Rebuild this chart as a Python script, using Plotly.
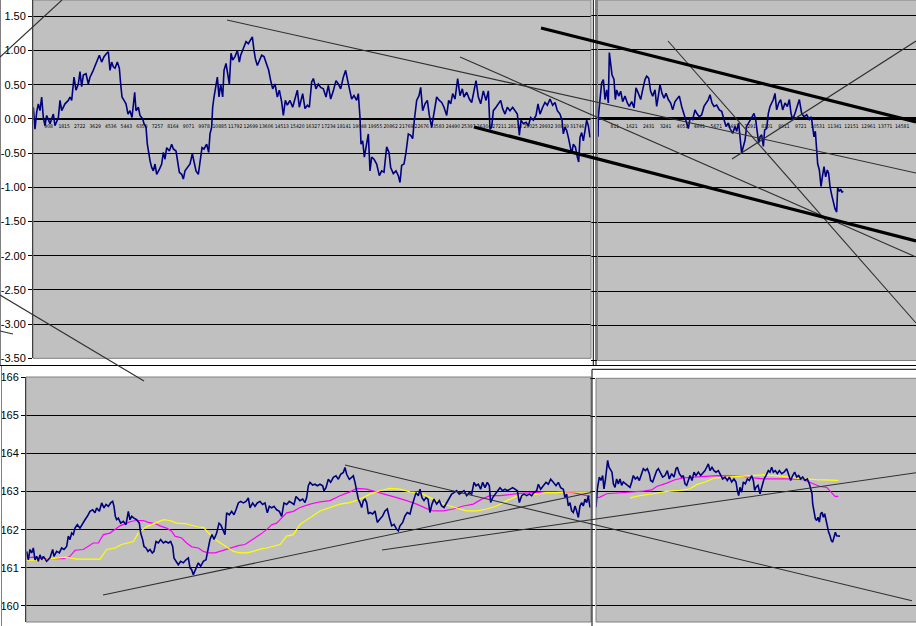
import plotly.graph_objects as go

W, H = 916, 626

# ---------------- data: top-left panel (detrended series) ----------------
tl_x = [19,117,214,311,408,506,603,700,797,992,1186,1283,1478,1575,1672,1867,2061,2158,2256,2392,2508,2644,2742,2839,2936,3092,3228,3325,3481,3617,3753,3869,4005,4142,4297,4394,4492,4589,4686,4783,4919,5036,5114,5192,5308,5425,5542,5658,5775,5853,5931,6008,6144,6242,6397,6475,6592,6669,6747,6825,6922,7019,7117,7214,7369,7505,7603,7700,7797,7953,8089,8186,8342,8439,8536,8672,8769,8867,9003,9158,9294,9392,9508,9644,9742,9858,9975,10130,10247,10325,10422,10480,10558,10675,10753,10850,10947,11064,11142,11258,11375,11453,11550,11647,11783,11919,12036,12114,12269,12425,12561,12697,12794,12892,12969,13086,13203,13339,13475,13630,13747,13864,13981,14117,14253,14369,14505,14602,14719,14836,14991,15147,15283,15419,15536,
        15574,15730,15866,16002,16118,16255,16352,16507,16643,16780,16935,17091,17227,17363,17518,17674,17810,17946,18102,18238,18355,18491,18588,18724,18880,18977,19074,19132,19230,19327,19424,19560,19657,19754,19891,20046,20202,20338,20474,20629,20766,20863,21018,21174,21310,21407,21504,21641,21757,21893,22030,22146,22243,22379,22515,22613,22729,22866,23002,23118,23254,23391,23546,23702,23838,23974,24130,24246,24363,24480,24616,24771,24907,25043,25140,25296,25452,25588,25724,25841,25977,26113,26268,26424,26560,26657,26754,26852,27007,27143,27280,27396,27532,27668,27824,27979,28115,28252,28368,28465,28602,28757,28893,29029,29185,29340,29457,29574,29729,29865,30001,30157,30313,30449,30585,30740,30857,30935,31032,31129,31227,31324,31421,31518,31635,31752,31830,31907,32004,32102,32199,32296,32393,32491]
tl_y = [0.17,-0.15,0.10,0.22,0.12,0.32,0.02,-0.10,0.05,-0.07,0.07,-0.10,0.02,0.27,0.12,0.22,0.27,0.32,0.27,0.61,0.42,0.51,0.69,0.47,0.64,0.66,0.51,0.61,0.69,0.78,0.88,0.93,0.83,0.91,0.96,0.98,0.71,0.83,0.76,0.74,0.83,0.74,0.51,0.32,0.27,0.22,0.07,0.12,0.02,0.17,0.39,0.12,0.17,0.05,0.00,-0.07,-0.12,-0.37,-0.51,-0.61,-0.71,-0.76,-0.66,-0.81,-0.74,-0.66,-0.49,-0.59,-0.42,-0.47,-0.37,-0.44,-0.47,-0.61,-0.78,-0.81,-0.88,-0.76,-0.71,-0.66,-0.51,-0.64,-0.76,-0.81,-0.61,-0.42,-0.44,-0.37,-0.49,-0.22,-0.12,0.17,0.32,0.47,0.61,0.32,0.51,0.32,0.71,0.81,0.64,0.51,0.96,0.86,0.91,1.00,0.83,0.93,1.03,1.13,1.10,1.15,1.20,1.00,0.88,0.78,0.86,0.93,0.91,0.78,0.71,0.56,0.44,0.51,0.32,0.42,0.25,0.05,0.27,0.20,0.27,0.17,0.29,0.42,0.17,
        0.22,0.37,0.15,0.20,0.17,0.54,0.59,0.44,0.51,0.46,0.44,0.32,0.49,0.29,0.41,0.56,0.51,0.44,0.61,0.71,0.56,0.41,0.29,0.34,0.27,0.37,0.02,-0.37,-0.32,-0.56,-0.39,-0.22,-0.76,-0.56,-0.59,-0.66,-0.83,-0.76,-0.78,-0.41,-0.49,-0.71,-0.80,-0.76,-0.83,-0.93,-0.68,-0.66,-0.49,-0.22,-0.24,-0.29,-0.02,0.27,0.34,0.46,0.12,0.22,0.27,0.05,-0.12,0.07,0.32,0.27,0.24,0.17,0.05,0.27,0.22,0.37,0.29,0.59,0.34,0.44,0.32,0.39,0.29,0.24,0.41,0.56,0.32,0.22,0.41,0.27,0.41,-0.15,-0.12,0.12,0.17,0.22,0.27,0.15,0.07,0.17,0.12,0.17,0.12,0.07,-0.24,-0.02,-0.07,-0.05,-0.10,0.02,-0.02,0.05,0.22,0.07,0.17,0.24,0.20,0.29,0.20,0.24,0.12,0.07,-0.02,-0.22,-0.12,-0.17,-0.27,-0.41,-0.51,-0.37,-0.41,-0.56,-0.63,-0.27,-0.20,-0.32,-0.17,-0.02,-0.10,-0.27]
tl_tick_vals = [908,1815,2722,3629,4536,5443,6350,7257,8164,9071,9978,10885,11792,12699,13606,14513,15420,16327,17234,18141,19048,19955,20862,21769,22676,23583,24490,25397,26304,27211,28118,29025,29932,30839,31746]
tl_tick_text = [str(v) for v in tl_tick_vals]

# ---------------- data: top-right panel ----------------
tr_x = [0,16,96,176,256,336,416,495,543,607,671,767,831,895,991,1087,1183,1294,1406,1502,1614,1726,1822,1934,2045,2141,2253,2333,2429,2525,2621,2733,2813,2892,2972,3068,3164,3260,3372,3484,3580,3691,3803,3899,4011,4123,4219,4331,4411,4538,4650,4730,4858,4970,5082,5178,5289,5369,5465,5561,5689,5817,5929,6040,6136,6248,6328,6456,6568,6648,6744,6808,6887,6967,7047,7127,7223,7319,7415,7479,7559,7639,7703,7766,7846,7926,7990,8086,8166,8246,8326,8406,8485,8565,8661,8757,8853,8965,9077,9173,9253,9333,9445,9556,9652,9764,9876,10004,10131,10227,10291,10355,10419,10483,10531,10611,10691,10755,10835,10914,10994,11058,11122,11202,11282,11362,11442,11490,11570,11634,11698,11762]
tr_y = [-0.26,0.03,0.28,0.52,0.57,0.28,0.42,0.23,0.96,0.76,0.64,0.57,0.28,0.42,0.33,0.40,0.25,0.33,0.23,0.18,0.25,0.16,0.45,0.37,0.28,0.42,0.57,0.62,0.59,0.40,0.33,0.42,0.18,0.33,0.50,0.37,0.30,0.37,0.28,0.23,0.13,0.25,0.30,0.33,0.18,0.08,-0.01,-0.14,0.01,-0.01,0.13,0.08,0.03,0.06,0.18,0.23,0.28,0.35,0.23,0.18,0.20,0.13,0.11,-0.01,-0.11,-0.06,-0.14,-0.21,-0.11,-0.18,-0.06,-0.26,-0.50,-0.40,-0.31,-0.11,-0.06,-0.01,0.06,0.08,-0.01,-0.21,-0.35,-0.26,-0.23,-0.40,-0.16,-0.14,0.08,0.18,0.23,0.28,0.37,0.13,0.23,0.28,0.13,0.23,0.18,0.28,0.08,-0.01,0.08,0.18,0.28,0.08,0.03,0.06,-0.01,0.03,-0.16,-0.26,-0.18,-0.45,-0.65,-0.74,-0.98,-0.84,-0.69,-0.84,-0.74,-0.79,-0.98,-1.10,-1.20,-1.30,-1.35,-1.00,-1.05,-1.02,-1.06,-1.05]
tr_tick_vals = [811,1621,2431,3241,4051,4861,5671,6481,7291,8101,8911,9721,10531,11341,12151,12961,13771,14581]
tr_tick_text = [str(v) for v in tr_tick_vals]

# ---------------- data: bottom-left panel (price + two averages) ----------------
bl_x = [38,134,230,326,422,518,614,710,806,902,998,1190,1382,1536,1612,1766,1920,2054,2188,2342,2438,2534,2630,2726,2822,2956,3110,3264,3398,3532,3686,3840,3974,4070,4224,4358,4492,4608,4742,4876,4992,5068,5145,5222,5318,5452,5606,5760,5894,5990,6086,6220,6374,6528,6604,6720,6796,6912,7027,7142,7276,7372,7488,7622,7756,7910,8044,8198,8332,8448,8524,8640,8774,8908,9062,9216,9350,9446,9542,9638,9792,9926,10060,10214,10368,10502,10598,10713,10828,10982,11116,11212,11328,11462,11558,11712,11846,11980,12096,12230,12364,12518,12672,12806,12902,13056,13190,13324,13478,13632,13766,13900,14016,14150,14284,14438,14592,14726,14860,15014,15168,15302,15436,15552,15686,
        15782,15936,16070,16166,16262,16358,16512,16646,16780,16934,17088,17164,17280,17414,17548,17702,17856,17990,18124,18278,18374,18470,18624,18758,18854,18950,19046,19142,19238,19334,19430,19526,19622,19718,19814,19968,20102,20236,20390,20544,20678,20812,20928,21062,21196,21350,21446,21542,21696,21830,21964,22118,22233,22348,22464,22598,22694,22809,22924,23040,23155,23270,23385,23500,23654,23808,23942,24076,24230,24384,24518,24652,24806,24960,25094,25228,25382,25536,25670,25804,25920,26054,26188,26304,26438,26572,26688,26764,26880,27014,27148,27302,27456,27590,27724,27878,28032,28166,28300,28416,28550,28684,28838,28992,29126,29260,29414,29510,29644,29798,29952,30086,30220,30374,30528,30662,30796,30950,31046,31142,31238,31334,31430,31526,31622,31718,31814,31910,32006,32102,32198,32294,32390,32486]
bl_y = [161.43,161.21,161.48,161.39,161.52,161.21,161.30,161.17,161.34,161.21,161.30,161.17,161.26,161.48,161.30,161.43,161.39,161.52,161.48,161.56,161.83,161.74,161.91,161.87,162.04,162.13,162.04,162.17,162.26,162.35,162.48,162.52,162.44,162.57,162.48,162.70,162.57,162.66,162.61,162.70,162.74,162.61,162.35,162.26,162.30,162.17,162.22,162.13,162.48,162.26,162.35,162.30,162.26,162.17,161.91,161.74,161.56,161.52,161.43,161.48,161.39,161.43,161.69,161.65,161.74,161.65,161.69,161.65,161.69,161.56,161.26,161.17,161.08,161.17,161.13,161.21,161.26,161.00,160.95,160.82,161.00,161.13,161.04,161.17,161.21,161.56,161.74,161.87,161.74,161.91,162.17,162.13,162.00,161.87,162.44,162.39,162.48,162.39,162.52,162.70,162.74,162.70,162.74,162.83,162.57,162.70,162.61,162.70,162.74,162.66,162.70,162.44,162.61,162.57,162.61,162.52,162.48,162.35,162.70,162.66,162.74,162.70,162.66,162.87,162.79,
        162.76,162.80,162.71,162.84,163.15,163.24,163.17,163.19,163.15,163.19,163.15,163.02,163.10,163.32,163.24,163.37,163.41,163.32,163.45,163.50,163.63,163.45,163.32,163.37,163.41,163.24,162.97,162.80,162.71,162.58,162.76,162.80,162.71,162.41,162.45,162.41,162.49,162.19,162.28,162.36,162.49,162.54,162.32,162.10,162.14,162.01,161.97,162.10,162.19,162.36,162.45,162.41,162.62,162.80,162.97,162.89,163.06,162.84,162.76,162.84,162.80,162.45,162.67,162.80,162.67,162.76,162.62,162.58,162.71,162.84,162.93,162.97,163.02,162.93,162.97,163.02,162.89,162.97,162.93,163.24,163.15,163.19,163.06,163.24,163.10,163.24,163.15,162.71,162.84,162.93,163.02,163.10,163.02,163.06,163.02,163.06,163.10,163.06,163.02,162.71,162.89,162.93,162.89,162.93,162.89,162.97,163.02,163.19,163.06,163.15,163.24,163.19,163.32,163.24,163.15,163.24,163.10,163.06,162.84,162.93,162.62,162.71,162.49,162.45,162.62,162.49,162.32,162.62,162.71,162.62,162.80,162.71,162.89,162.58]
bl_fast_x = [38,422,998,1574,2150,2534,2822,3302,3590,3878,4166,4454,4838,5126,5414,5798,6086,6374,6758,7046,7430,7718,8102,8390,8582,8966,9254,9542,9926,10214,10502,10886,11174,11558,11846,12230,12614,12902,13190,13478,13862,14150,14438,14726,15014,15398,15782,16358,16934,17510,18086,18662,19046,19622,20198,20774,21350,21926,22502,23078,23462,24038,24614,25190,25766,26246,26726,27302,27878,28454,29222,29798,30374,30950,31526,32102,32486]
bl_fast_y = [161.26,161.28,161.24,161.24,161.24,161.30,161.46,161.48,161.56,161.65,161.65,161.87,161.91,162.00,162.10,162.17,162.22,162.24,162.24,162.19,162.16,162.10,162.04,161.96,161.83,161.78,161.65,161.55,161.52,161.43,161.39,161.39,161.43,161.48,161.52,161.58,161.61,161.69,161.78,161.87,162.00,162.13,162.17,162.30,162.44,162.48,162.58,162.67,162.73,162.76,162.89,162.99,163.08,163.06,162.99,162.93,162.84,162.76,162.67,162.55,162.49,162.49,162.54,162.62,162.67,162.80,162.89,162.89,162.93,162.95,162.97,162.99,162.99,162.99,162.97,162.90,162.87]
bl_slow_x = [38,614,1190,1766,2342,2918,3686,4262,4646,5126,5510,5894,6182,6470,6950,7430,7910,8294,8678,9158,9542,9926,10214,10502,10790,11078,11366,11654,11942,12326,12710,13094,13478,13862,14246,14630,15014,15398,15782,16358,16934,17510,18086,18662,19238,19814,20390,20966,21542,22118,22694,23270,23846,24422,24998,25382,25958,26534,27110,27686,28262,28838,29414,29990,30566,31142,31718,32486]
bl_slow_y = [161.20,161.20,161.23,161.26,161.28,161.23,161.23,161.23,161.48,161.52,161.61,161.65,161.69,161.91,162.08,162.17,162.26,162.24,162.17,162.16,162.11,162.07,162.06,161.91,161.78,161.69,161.61,161.52,161.43,161.39,161.39,161.43,161.49,161.52,161.56,161.61,161.83,161.87,162.14,162.32,162.49,162.58,162.67,162.71,162.80,162.93,163.02,163.08,163.06,162.99,162.97,162.84,162.71,162.62,162.55,162.49,162.49,162.54,162.62,162.76,162.87,162.89,162.93,162.97,162.97,162.99,162.99,162.99]

# ---------------- data: bottom-right panel ----------------
br_x = [0,30,64,159,239,319,383,447,511,559,623,703,767,831,911,990,1070,1150,1230,1310,1438,1550,1630,1710,1789,1885,1981,2077,2189,2269,2365,2461,2556,2620,2716,2828,2908,2988,3100,3196,3308,3419,3515,3627,3739,3835,3899,3995,4107,4186,4266,4346,4426,4506,4602,4698,4794,4906,5017,5145,5225,5305,5385,5465,5561,5657,5752,5864,5976,6072,6184,6296,6392,6504,6615,6711,6775,6839,6903,6983,7063,7159,7255,7350,7462,7542,7606,7670,7766,7862,7926,7990,8054,8149,8261,8341,8421,8501,8597,8693,8789,8901,9012,9140,9236,9332,9428,9524,9620,9715,9811,9907,10019,10131,10227,10291,10355,10387,10451,10514,10578,10642,10706,10770,10834,10898,10962,11026,11090,11154,11218,11282,11345,11409,11473,11537,11617,11697]
br_y = [162.59,162.86,163.08,163.39,163.30,163.43,163.08,163.30,163.56,163.83,163.65,163.56,163.52,163.21,163.12,163.34,163.21,163.34,163.17,163.26,163.21,163.17,163.12,163.26,163.43,163.34,163.39,163.30,163.48,163.61,163.56,163.61,163.48,163.30,163.26,163.43,163.56,163.61,163.48,163.39,163.43,163.56,163.34,163.48,163.39,163.61,163.65,163.48,163.39,163.43,163.21,163.17,163.30,163.43,163.30,163.52,163.43,163.52,163.43,163.52,163.56,163.65,163.74,163.56,163.65,163.56,163.52,163.56,163.43,163.34,163.39,163.30,163.39,163.26,163.34,163.26,163.04,162.90,163.12,162.99,163.26,163.21,163.34,163.30,163.43,163.30,163.04,163.12,163.17,162.95,163.08,163.26,163.34,163.43,163.56,163.52,163.65,163.52,163.56,163.48,163.56,163.48,163.52,163.61,163.48,163.30,163.43,163.52,163.39,163.43,163.34,163.39,163.30,163.34,163.21,163.08,162.95,162.68,162.42,162.29,162.24,162.33,162.20,162.42,162.46,162.33,162.42,162.24,162.07,161.93,161.84,161.71,161.67,161.84,161.93,161.84,161.84,161.83]
br_fast_x = [0,191,511,1150,1789,2269,2668,2908,3387,3787,4186,4666,5305,5784,6424,7063,7542,8022,8661,9300,9939,10339,10738,11058,11298,11457,11617]
br_fast_y = [162.84,162.86,162.95,162.97,162.99,163.02,163.05,163.14,163.23,163.32,163.37,163.39,163.41,163.43,163.42,163.41,163.37,163.34,163.34,163.34,163.32,163.23,163.14,163.12,162.96,162.88,162.88]
br_slow_x = [1630,2109,2748,3387,4027,4506,4826,5225,5705,6264,6903,7382,8022,8661,9300,9939,10578,11058,11617]
br_slow_y = [162.84,162.90,162.95,163.01,163.04,163.08,163.19,163.26,163.37,163.39,163.41,163.43,163.45,163.43,163.39,163.34,163.32,163.32,163.30]

top_vals = [1.5, 1.0, 0.5, 0.0, -0.5, -1.0, -1.5, -2.0, -2.5, -3.0, -3.5]
top_text = ["1.50", "1.00", "0.50", "0.00", "-0.50", "-1.00", "-1.50", "-2.00", "-2.50", "-3.00", "-3.50"]
bot_vals = [160, 161, 162, 163, 164, 165, 166]
bot_text = ["160", "161", "162", "163", "164", "165", "166"]

# hand-drawn trend lines on the sheet (screen pixels, start -> end)
thin_lines = [((0, 57), (62, 0)), ((227, 20), (916, 173)), ((460, 57), (916, 257)),
              ((668, 41), (916, 323)), ((732, 159), (916, 41)), ((0, 295), (144, 381)),
              ((0, 331), (13, 334)), ((103, 595), (591, 492.5)), ((382, 550), (916, 472.7)),
              ((345, 465), (912, 600.7))]
thick_lines = [((541, 28), (916, 122)), ((474, 127), (916, 241))]

NAVY, MAG, YEL = "#000080", "#FF00FF", "#FFFF00"


def px(x):
    return x / W


def py(y):
    return 1 - y / H


fig = go.Figure()
fig.add_trace(go.Scatter(x=tl_x, y=tl_y, mode="lines", line=dict(color=NAVY, width=1.6), xaxis="x", yaxis="y"))
fig.add_trace(go.Scatter(x=tr_x, y=tr_y, mode="lines", line=dict(color=NAVY, width=1.6), xaxis="x2", yaxis="y2"))
fig.add_trace(go.Scatter(x=bl_fast_x, y=bl_fast_y, mode="lines", line=dict(color=MAG, width=1.2), xaxis="x3", yaxis="y3"))
fig.add_trace(go.Scatter(x=bl_slow_x, y=bl_slow_y, mode="lines", line=dict(color=YEL, width=1.2), xaxis="x3", yaxis="y3"))
fig.add_trace(go.Scatter(x=bl_x, y=bl_y, mode="lines", line=dict(color=NAVY, width=1.6), xaxis="x3", yaxis="y3"))
fig.add_trace(go.Scatter(x=br_fast_x, y=br_fast_y, mode="lines", line=dict(color=MAG, width=1.2), xaxis="x4", yaxis="y4"))
fig.add_trace(go.Scatter(x=br_slow_x, y=br_slow_y, mode="lines", line=dict(color=YEL, width=1.2), xaxis="x4", yaxis="y4"))
fig.add_trace(go.Scatter(x=br_x, y=br_y, mode="lines", line=dict(color=NAVY, width=1.6), xaxis="x4", yaxis="y4"))

lbl_font = dict(family="Liberation Sans, Arial, sans-serif", size=11, color="black")
cat_font = dict(family="Liberation Sans Narrow, Arial Narrow, DejaVu Sans Condensed, sans-serif", size=5, color="black")

common_x = dict(showgrid=False, zeroline=False, showline=False, ticks="", fixedrange=True, automargin=False)

fig.update_layout(
    template="none",
    width=W, height=H, margin=dict(l=0, r=0, t=0, b=0, pad=0), autosize=False,
    paper_bgcolor="white", plot_bgcolor="#C0C0C0", showlegend=False,
    xaxis=dict(domain=[px(33), px(591)], range=[0, 32548], anchor="free", position=py(118.6),
               tickmode="array", tickvals=tl_tick_vals, ticktext=tl_tick_text, tickangle=0,
               tickfont=cat_font, ticklabelstandoff=3, **common_x),
    yaxis=dict(domain=[py(358.3), 1], range=[-3.5, 1.738], anchor="x", automargin=False,
               tickmode="array", tickvals=top_vals, ticktext=top_text, tickfont=lbl_font,
               showgrid=True, gridcolor="black", gridwidth=1,
               zeroline=True, zerolinecolor="black", zerolinewidth=2.6,
               showline=True, linecolor="black", linewidth=1, ticks="outside", ticklen=4, tickcolor="black"),
    xaxis2=dict(domain=[px(597.5), 1], range=[-24, 15245], anchor="free", position=py(118.9),
                tickmode="array", tickvals=tr_tick_vals, ticktext=tr_tick_text, tickangle=0,
                tickfont=cat_font, ticklabelstandoff=3, **common_x),
    yaxis2=dict(domain=[py(360.5), 1], range=[-3.5, 1.722], anchor="x2", automargin=False,
                tickmode="array", tickvals=top_vals, showticklabels=False,
                showgrid=True, gridcolor="black", gridwidth=1,
                zeroline=True, zerolinecolor="black", zerolinewidth=3,
                showline=False, ticks="outside", ticklen=6, tickcolor="black"),
    xaxis3=dict(domain=[px(26), px(591)], range=[0, 32544], anchor="y3", showticklabels=False, **common_x),
    yaxis3=dict(domain=[py(622), py(377)], range=[159.58, 166], anchor="x3", automargin=False,
                tickmode="array", tickvals=bot_vals, ticktext=bot_text, tickfont=lbl_font,
                showgrid=True, gridcolor="black", gridwidth=1, zeroline=False,
                showline=True, linecolor="black", linewidth=1, ticks="outside", ticklen=4, tickcolor="black"),
    xaxis4=dict(domain=[px(596), 1], range=[0, 15340], anchor="y4", showticklabels=False, **common_x),
    yaxis4=dict(domain=[py(622), py(378.3)], range=[159.56, 166], anchor="x4", automargin=False,
                tickmode="array", tickvals=bot_vals, showticklabels=False,
                showgrid=True, gridcolor="black", gridwidth=1, zeroline=False,
                showline=False, ticks="outside", ticklen=5, tickcolor="black"),
)

shapes = []
# plot-area borders (grey) and chart-area borders (black)
for (x0, y0, x1, y1) in [(33, 0, 591, 358.3), (597.5, 0, 917, 360.5), (26, 377, 591, 622), (596, 378.3, 917, 622)]:
    shapes.append(dict(type="rect", xref="paper", yref="paper", x0=px(x0), x1=px(x1), y0=py(y1), y1=py(y0),
                       line=dict(color="#808080", width=1), layer="above"))
for (x0, y0, x1, y1) in [(0, 365.5, 916, 365.5), (593.3, 0, 593.3, 365.5), (596, 0, 596, 365.5),
                         (592, 369.3, 916, 369.3), (592, 369.3, 592, 626)]:
    shapes.append(dict(type="line", xref="paper", yref="paper", x0=px(x0), x1=px(x1), y0=py(y0), y1=py(y1),
                       line=dict(color="black", width=1), layer="above"))
for (x0, y0, x1, y1) in [(0.5, 0, 0.5, 365), (1.5, 366, 1.5, 626)]:
    shapes.append(dict(type="line", xref="paper", yref="paper", x0=px(x0), x1=px(x1), y0=py(y0), y1=py(y1),
                       line=dict(color="#808080", width=1), layer="above"))
for (a, b) in thin_lines:
    shapes.append(dict(type="line", xref="paper", yref="paper", x0=px(a[0]), y0=py(a[1]), x1=px(b[0]), y1=py(b[1]),
                       line=dict(color="#303030", width=1.1), layer="above"))
for (a, b) in thick_lines:
    shapes.append(dict(type="line", xref="paper", yref="paper", x0=px(a[0]), y0=py(a[1]), x1=px(b[0]), y1=py(b[1]),
                       line=dict(color="black", width=3.2), layer="above"))
fig.update_layout(shapes=shapes)

fig.write_html("out.html", config={"displayModeBar": False, "staticPlot": True})

# remove the browser's default page margin so the 916x626 figure fills the window exactly
with open("out.html", "r", encoding="utf-8") as f:
    page = f.read()
page = page.replace("<head>", "<head><style>html,body{margin:0;padding:0;overflow:hidden;}</style>", 1)
with open("out.html", "w", encoding="utf-8") as f:
    f.write(page)
